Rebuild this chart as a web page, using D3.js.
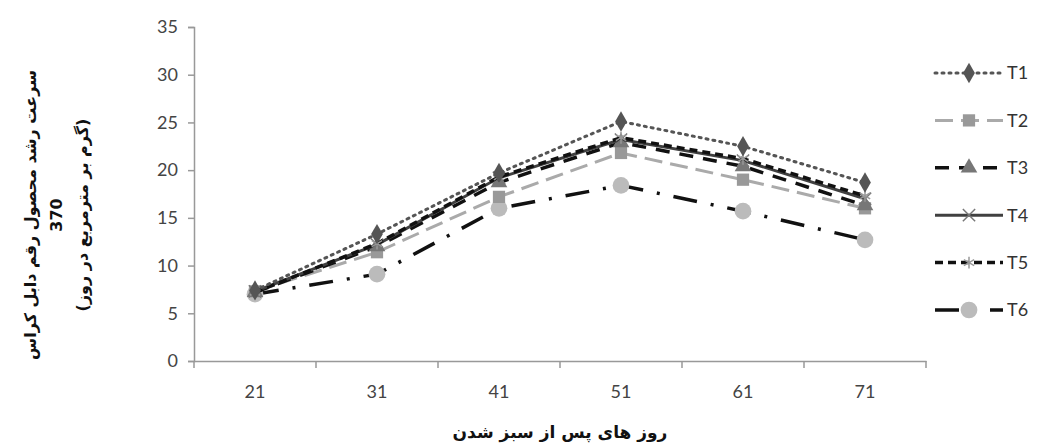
<!DOCTYPE html>
<html>
<head>
<meta charset="utf-8">
<script src="https://cdn.jsdelivr.net/npm/d3@7"></script>
<style>
body { margin: 0; background: #fff; }
svg { display: block; }
</style>
</head>
<body>
<div id="chart"></div>
<script>
const days = ["21", "31", "41", "51", "61", "71"];
const seriesNames = ["T1", "T2", "T3", "T4", "T5", "T6"];
const t1 = [7.4, 13.3, 19.7, 25.1, 22.5, 18.7];
const t2 = [7.3, 11.4, 17.2, 21.8, 19.0, 16.0];
const t3 = [7.2, 12.0, 18.7, 22.9, 20.4, 16.3];
const t4 = [7.3, 12.2, 19.2, 23.2, 21.0, 17.0];
const t5 = [7.2, 12.3, 19.3, 23.4, 21.2, 17.3];
const t6 = [7.0, 9.1, 16.0, 18.4, 15.7, 12.7];
const yTicks = [0, 5, 10, 15, 20, 25, 30, 35];

const width = 1040, height = 446;
const margin = { top: 27, right: 114, bottom: 85, left: 194 };

const styles = [
  { line: "#555", dash: "2,5", cap: "round", w: 3, marker: "diamond", fill: "#555" },
  { line: "#aaa", dash: "18,8", cap: "butt", w: 3, marker: "square", fill: "#999" },
  { line: "#111", dash: "14,10", cap: "butt", w: 3.5, marker: "triangle", fill: "#777" },
  { line: "#404040", dash: null, cap: "butt", w: 3, marker: "cross", fill: "#777" },
  { line: "#111", dash: "8,5", cap: "butt", w: 3.5, marker: "star", fill: "#999" },
  { line: "#111", dash: "24,14,3,14", cap: "butt", w: 3.5, marker: "circle", fill: "#bbb" }
];
const values = [t1, t2, t3, t4, t5, t6];

const svg = d3.select("#chart").append("svg")
  .attr("width", width).attr("height", height);

const x = d3.scaleBand().domain(days)
  .range([margin.left, width - margin.right]).padding(0);
const y = d3.scaleLinear().domain([0, 35])
  .range([height - margin.bottom, margin.top]);

// y axis
const yAxis = svg.append("g")
  .attr("transform", `translate(${margin.left},0)`)
  .call(d3.axisLeft(y).tickValues(yTicks).tickSize(6).tickPadding(10));
yAxis.select(".domain").attr("stroke", "#999").attr("stroke-width", 1.5);
yAxis.selectAll(".tick line").attr("stroke", "#999").attr("stroke-width", 1.5);
yAxis.selectAll("text").attr("fill", "#444")
  .style("font-family", "Lato, 'Open Sans', sans-serif").style("font-size", "18px");

// x axis
const xAxis = svg.append("g")
  .attr("transform", `translate(0,${y(0)})`)
  .call(d3.axisBottom(x).tickSize(0).tickPadding(24));
xAxis.select(".domain").attr("stroke", "#999").attr("stroke-width", 1.5);
xAxis.selectAll("text").attr("fill", "#444")
  .style("font-family", "Lato, 'Open Sans', sans-serif").style("font-size", "18px");
// boundary ticks between categories
const bounds = days.map(d => x(d)).concat([x(days[days.length - 1]) + x.bandwidth()]);
xAxis.selectAll(".bound").data(bounds).enter().append("line")
  .attr("x1", d => d).attr("x2", d => d)
  .attr("y1", 0).attr("y2", 7)
  .attr("stroke", "#999").attr("stroke-width", 1.5);

const cx = d => x(d) + x.bandwidth() / 2;

const symbolFor = {
  diamond: d3.symbolDiamond, square: d3.symbolSquare, triangle: d3.symbolTriangle,
  cross: d3.symbolX, star: d3.symbolAsterisk, circle: d3.symbolCircle
};
const sizeFor = { diamond: 120, square: 150, triangle: 120, cross: 100, star: 100, circle: 220 };

function drawMarker(g, s, px, py) {
  const sym = d3.symbol().type(symbolFor[s.marker]).size(sizeFor[s.marker]);
  const stroked = s.marker === "cross" || s.marker === "star";
  g.append("path")
    .attr("d", sym())
    .attr("transform", `translate(${px},${py})`)
    .attr("fill", stroked ? "none" : s.fill)
    .attr("stroke", stroked ? s.fill : "none")
    .attr("stroke-width", stroked ? 1.5 : 0);
}

const line = d3.line().x((d, i) => cx(days[i])).y(d => y(d));

// draw T6 first so T1 is on top
const order = [5, 1, 2, 3, 4, 0];
order.forEach(k => {
  const s = styles[k];
  const g = svg.append("g");
  g.append("path")
    .datum(values[k])
    .attr("d", line)
    .attr("fill", "none")
    .attr("stroke", s.line)
    .attr("stroke-width", s.w)
    .attr("stroke-linecap", s.cap)
    .attr("stroke-dasharray", s.dash);
  values[k].forEach((v, i) => drawMarker(g, s, cx(days[i]), y(v)));
});

// legend
const legY = d3.scalePoint().domain(seriesNames).range([73, 310]);
const leg = svg.append("g");
seriesNames.forEach((name, k) => {
  const s = styles[k];
  const ly = legY(name);
  leg.append("line")
    .attr("x1", 935).attr("x2", 1003).attr("y1", ly).attr("y2", ly)
    .attr("stroke", s.line).attr("stroke-width", s.w)
    .attr("stroke-linecap", s.cap)
    .attr("stroke-dasharray", s.dash);
  drawMarker(leg, s, 969, ly);
  leg.append("text")
    .attr("x", 1007).attr("y", ly).attr("dy", "0.35em")
    .attr("fill", "#333")
    .style("font-family", "Lato, 'Open Sans', sans-serif").style("font-size", "18px")
    .text(name);
});

// y title
const yTitle = svg.append("text")
  .attr("transform", `translate(62,215) rotate(-90)`)
  .attr("text-anchor", "middle")
  .style("font-family", "'DejaVu Sans', sans-serif")
  .style("font-weight", "bold").style("font-size", "16px")
  .attr("fill", "#111");
yTitle.append("tspan").attr("x", 0).attr("dy", "-1.65em").attr("direction", "rtl")
  .text("سرعت رشد محصول رقم دابل کراس");
yTitle.append("tspan").attr("x", 0).attr("dy", "1.65em").text("370");
yTitle.append("tspan").attr("x", 0).attr("dy", "1.65em").attr("direction", "rtl")
  .text("(گرم بر مترمربع در روز)");

// x title
svg.append("text")
  .attr("x", (margin.left + width - margin.right) / 2)
  .attr("y", 438)
  .attr("text-anchor", "middle")
  .attr("direction", "rtl")
  .style("font-family", "'DejaVu Sans', sans-serif")
  .style("font-weight", "bold").style("font-size", "17px")
  .attr("fill", "#111")
  .text("روز های پس از سبز شدن");
</script>
</body>
</html>
